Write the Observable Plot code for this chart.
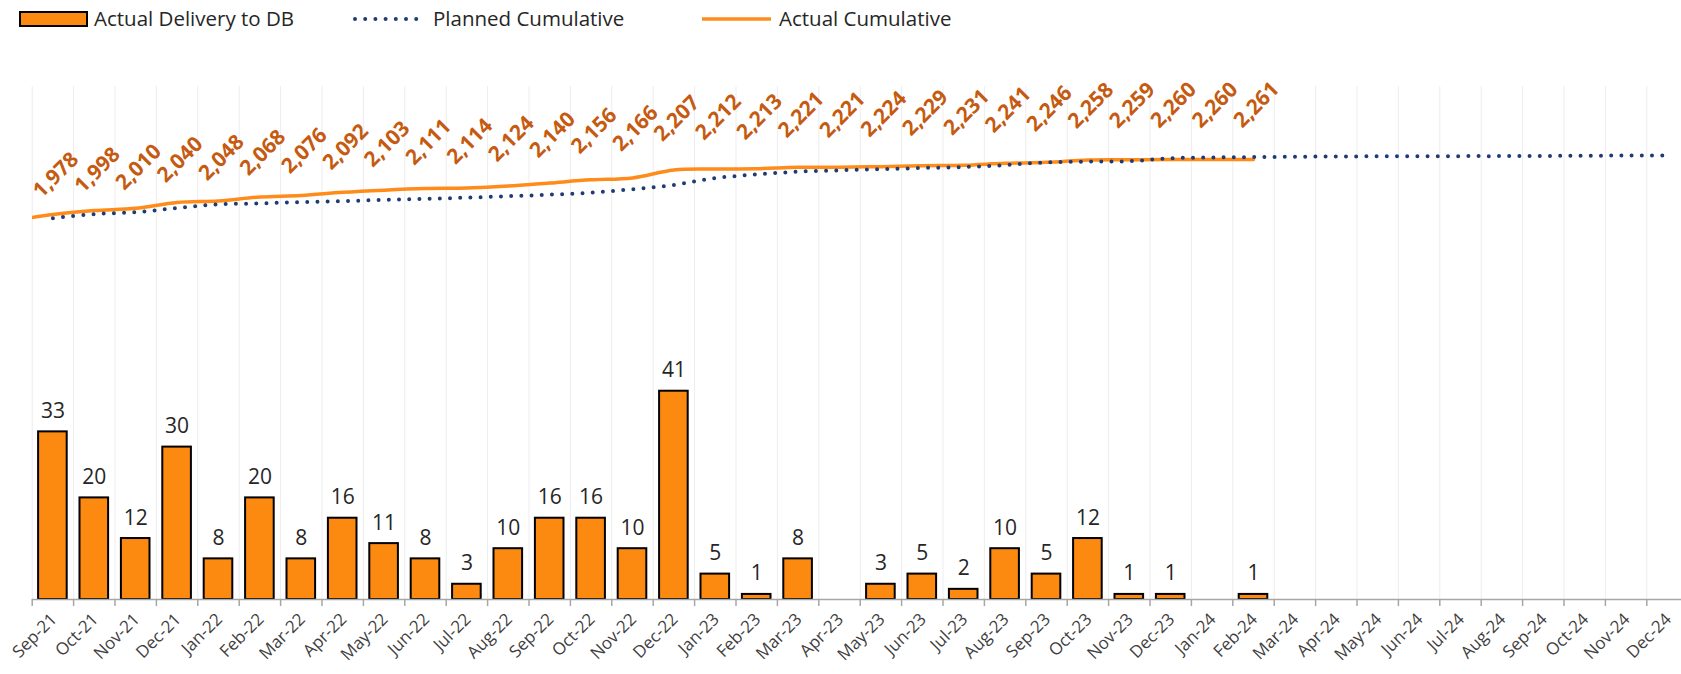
<!DOCTYPE html>
<html>
<head>
<meta charset="utf-8">
<script src="https://cdn.jsdelivr.net/npm/d3@7"></script>
<script src="https://cdn.jsdelivr.net/npm/@observablehq/plot@0.6"></script>
<style>
  html, body { margin: 0; padding: 0; background: #fff; }
  body { width: 1681px; height: 674px; overflow: hidden; font-family: "Open Sans", sans-serif; }
  #legend { position: relative; height: 36px; width: 1681px; font-size: 20.5px; color: #262626; }
  #legend .item { position: absolute; top: 0; height: 36px; line-height: 36px; white-space: nowrap; }
  #legend svg { position: absolute; top: 0; }
</style>
</head>
<body>
<div id="legend"></div>
<div id="chart"></div>
<script>
// ---- Data ----
const monthsAll = ["Aug-21","Sep-21","Oct-21","Nov-21","Dec-21","Jan-22","Feb-22","Mar-22","Apr-22","May-22","Jun-22","Jul-22","Aug-22","Sep-22","Oct-22","Nov-22","Dec-22","Jan-23","Feb-23","Mar-23","Apr-23","May-23","Jun-23","Jul-23","Aug-23","Sep-23","Oct-23","Nov-23","Dec-23","Jan-24","Feb-24","Mar-24","Apr-24","May-24","Jun-24","Jul-24","Aug-24","Sep-24","Oct-24","Nov-24","Dec-24"];
const tickMonths = monthsAll.slice(1); // Sep-21 .. Dec-24 shown on the axis

const deliveryMonths = tickMonths.slice(0, 30); // Sep-21 .. Feb-24
const deliveries = [33,20,12,30,8,20,8,16,11,8,3,10,16,16,10,41,5,1,8,0,3,5,2,10,5,12,1,1,0,1];

// Actual cumulative (first value is the month before the axis start)
const actualCumMonths = monthsAll.slice(0, 31); // Aug-21 .. Feb-24
const actualCum = [1945,1978,1998,2010,2040,2048,2068,2076,2092,2103,2111,2114,2124,2140,2156,2166,2207,2212,2213,2221,2221,2224,2229,2231,2241,2246,2258,2259,2260,2260,2261];

// Planned cumulative, Sep-21 .. Dec-24
const plannedMonths = tickMonths;
const plannedCum = [1959,1980,1990,2011,2030,2035,2042,2047,2053,2058,2065,2072,2080,2090,2108,2130,2165,2184,2198,2205,2211,2217,2222,2232,2246,2250,2252,2267,2271,2273,2275,2276,2277,2277,2278,2278,2279,2280,2281,2281];

const seriesNames = ["Actual Delivery to DB", "Planned Cumulative", "Actual Cumulative"];

// ---- Styling ----
const barFill = "#FD8A10";
const lineOrange = "#FF8C1A";
const labelBrown = "#C55A11";
const navy = "#1F3B73";
const bw = 41.4;          // category width in px
const x0 = 31.7;          // left edge of plot area
const secFactor = 100 / 2610;          // secondary (cumulative) axis → primary units
const labelMap = v => (v - 265) * (100 / 2050); // label placement axis for cumulative labels

// ---- Legend ----
const legend = document.getElementById("legend");
legend.innerHTML = `
  <div class="item" style="left:19px;top:11px;height:16px;width:69px;box-sizing:border-box;background:${barFill};border:2px solid #000;line-height:normal"></div>
  <div class="item" style="left:94px">${seriesNames[0]}</div>
  <svg width="72" height="36" style="left:352px"><line x1="3" y1="19" x2="68" y2="19" stroke="${navy}" stroke-width="4" stroke-linecap="round" stroke-dasharray="0 10.2"/></svg>
  <div class="item" style="left:433px">${seriesNames[1]}</div>
  <svg width="72" height="36" style="left:701px"><line x1="1" y1="19" x2="70" y2="19" stroke="${lineOrange}" stroke-width="3.5"/></svg>
  <div class="item" style="left:779px">${seriesNames[2]}</div>
`;

// ---- Table rows ----
const bars = deliveryMonths.map((m, i) => ({month: m, value: deliveries[i]}));
const actualRows = actualCumMonths.map((m, i) => ({month: m, value: actualCum[i]}));
const plannedRows = plannedMonths.map((m, i) => ({month: m, value: plannedCum[i]}));
const fmt = d3.format(",");

const chart = Plot.plot({
  width: 1681,
  height: 638,
  marginTop: 55,
  marginBottom: 75,
  marginLeft: 32,
  marginRight: 0,
  style: {fontFamily: "'Open Sans', sans-serif", background: "#fff", overflow: "hidden"},
  x: {type: "band", domain: monthsAll, range: [x0 - bw, x0 + 40 * bw], padding: 0, round: false, axis: null},
  y: {domain: [0, 100], axis: null},
  marks: [
    // vertical gridlines at category boundaries
    Plot.ruleX(tickMonths, {x: d => d, dx: -bw / 2, y1: 0, y2: 101, stroke: "#EDEDED", strokeWidth: 1}),
    // bars
    Plot.barY(bars.filter(d => d.value > 0), {x: "month", y: "value", fill: barFill, stroke: "#000", strokeWidth: 2, insetLeft: 6.4, insetRight: 6.4}),
    // axis line and tick marks
    Plot.ruleY([0], {stroke: "#A6A6A6", strokeWidth: 1.5}),
    Plot.ruleX(tickMonths, {x: d => d, dx: -bw / 2, y1: 0, y2: -1.4, stroke: "#A6A6A6", strokeWidth: 1.5}),
    // bar value labels
    Plot.text(bars.filter(d => d.value > 0), {x: "month", y: "value", text: d => String(d.value), lineAnchor: "bottom", dy: -14, fontSize: 21, fill: "#262626"}),
    // actual cumulative line
    Plot.line(actualRows, {x: "month", y: d => d.value * secFactor, stroke: lineOrange, strokeWidth: 3.5, curve: "catmull-rom", clip: true}),
    // planned cumulative dotted line
    Plot.line(plannedRows, {x: "month", y: d => d.value * secFactor, stroke: navy, strokeWidth: 4, strokeLinecap: "round", strokeDasharray: "0 10.2", curve: "catmull-rom"}),
    // cumulative labels
    Plot.text(actualRows.slice(1), {x: "month", y: d => labelMap(d.value), text: d => fmt(d.value), rotate: -45, textAnchor: "middle", lineAnchor: "middle", dx: 3, fontSize: 21, fontWeight: "bold", fill: labelBrown}),
    // x axis labels
    Plot.text(tickMonths, {x: d => d, y: 0, text: d => d, rotate: -45, textAnchor: "end", lineAnchor: "middle", dy: 17, dx: 1, fontSize: 17, fill: "#404040"})
  ]
});
document.getElementById("chart").appendChild(chart);
</script>
</body>
</html>
